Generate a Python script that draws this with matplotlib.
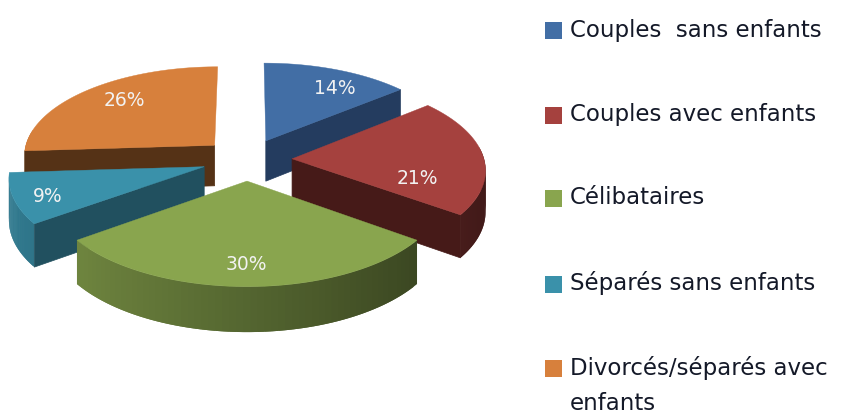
import numpy as np
import matplotlib
matplotlib.use('Agg')
import matplotlib.pyplot as plt

labels = ['Couples  sans enfants', 'Couples avec enfants', 'Célibataires',
          'Séparés sans enfants', 'Divorcés/séparés avec\nenfants']
values = [14, 21, 30, 9, 26]

top_colors = ['#426EA5', '#A5413E', '#89A54E', '#3A91AA', '#D7803C']
wall_colors = ['#243C5F', '#461A18', '#3A451B', '#21505F', '#553216']
text_pos = [(335, 89), (417, 178), (246, 264), (48, 197), (124, 100)]
legend_y = [30.5, 115.5, 198.5, 284, 368.5]

# fake 3D view, found by measuring the corners of the slices
cx, cy = 247, 159.5
ax_x, ax_y = 192, 89.6
persp = 0.105
explode = 0.235


def project(x, y):
    d = 1 + persp * y
    return cx + ax_x * x / d, cy - ax_y * y / d


def depth(y):
    return 41 / (1 + 0.08 * y)


def shade(color, f):
    rgb = np.array(matplotlib.colors.to_rgb(color))
    return tuple(np.clip(rgb * f, 0, 1))


fig = plt.figure(figsize=(8.41, 4.16), dpi=100)
ax = fig.add_axes([0, 0, 1, 1])
ax.set_xlim(0, 841)
ax.set_ylim(416, 0)
ax.axis('off')

edges = np.cumsum([0] + values) / sum(values) * 2 * np.pi
slices = []
for i in range(len(values)):
    t0, t1 = edges[i], edges[i + 1]
    mid = (t0 + t1) / 2
    ox, oy = explode * np.sin(mid), explode * np.cos(mid)
    slices.append((i, t0, t1, mid, ox, oy))

# back to front
for k in [4, 0, 3, 1, 2]:
    i, t0, t1, mid, ox, oy = slices[k]
    theta = np.linspace(t0, t1, 60)
    xs = ox + np.sin(theta)
    ys = oy + np.cos(theta)
    px, py = project(xs, ys)
    ax0, ay0 = project(ox, oy)
    mx, my = project(ox + np.sin(mid), oy + np.cos(mid))

    # outer wall, lit from the left; pieces overlap so no seams show
    for j in range(len(theta) - 1):
        if np.cos(theta[j]) > 0.15:
            continue
        n = min(j + 2, len(theta) - 1)
        f = 0.62 - 0.23 * np.sin(theta[j])
        ax.fill([px[j], px[n], px[n], px[j]],
                [py[j], py[n], py[n] + depth(ys[n]), py[j] + depth(ys[j])],
                color=shade(top_colors[i], f), lw=0)

    # straight walls, only those facing us
    for t in [t0, t1]:
        ex, ey = ox + np.sin(t), oy + np.cos(t)
        ax1, ay1 = project(ex, ey)
        if abs(ax1 - ax0) < 5:
            continue
        line_y = ay0 + (ay1 - ay0) * (mx - ax0) / (ax1 - ax0)
        if my < line_y:
            ax.fill([ax0, ax1, ax1, ax0],
                    [ay0, ay1, ay1 + depth(ey), ay0 + depth(oy)],
                    color=wall_colors[i], lw=0.5)

    ax.fill(np.r_[ax0, px], np.r_[ay0, py], color=top_colors[i], lw=0.3)

for i in range(len(values)):
    ax.text(text_pos[i][0], text_pos[i][1], '%d%%' % values[i], color='#F2F2F2',
            fontsize=13.5, family='DejaVu Sans', ha='center', va='center')

for i in range(len(labels)):
    y = legend_y[i]
    ax.fill([545, 562, 562, 545], [y - 8.5, y - 8.5, y + 8.5, y + 8.5], color=top_colors[i], lw=0)
    ax.text(570, y + 6, labels[i].split('\n')[0], color='#141928', fontsize=16.5,
            family='DejaVu Sans', ha='left', va='baseline')
    if '\n' in labels[i]:
        ax.text(570, y + 42, labels[i].split('\n')[1], color='#141928', fontsize=16.5,
                family='DejaVu Sans', ha='left', va='baseline')

fig.savefig('out.png', dpi=100, facecolor='white')
